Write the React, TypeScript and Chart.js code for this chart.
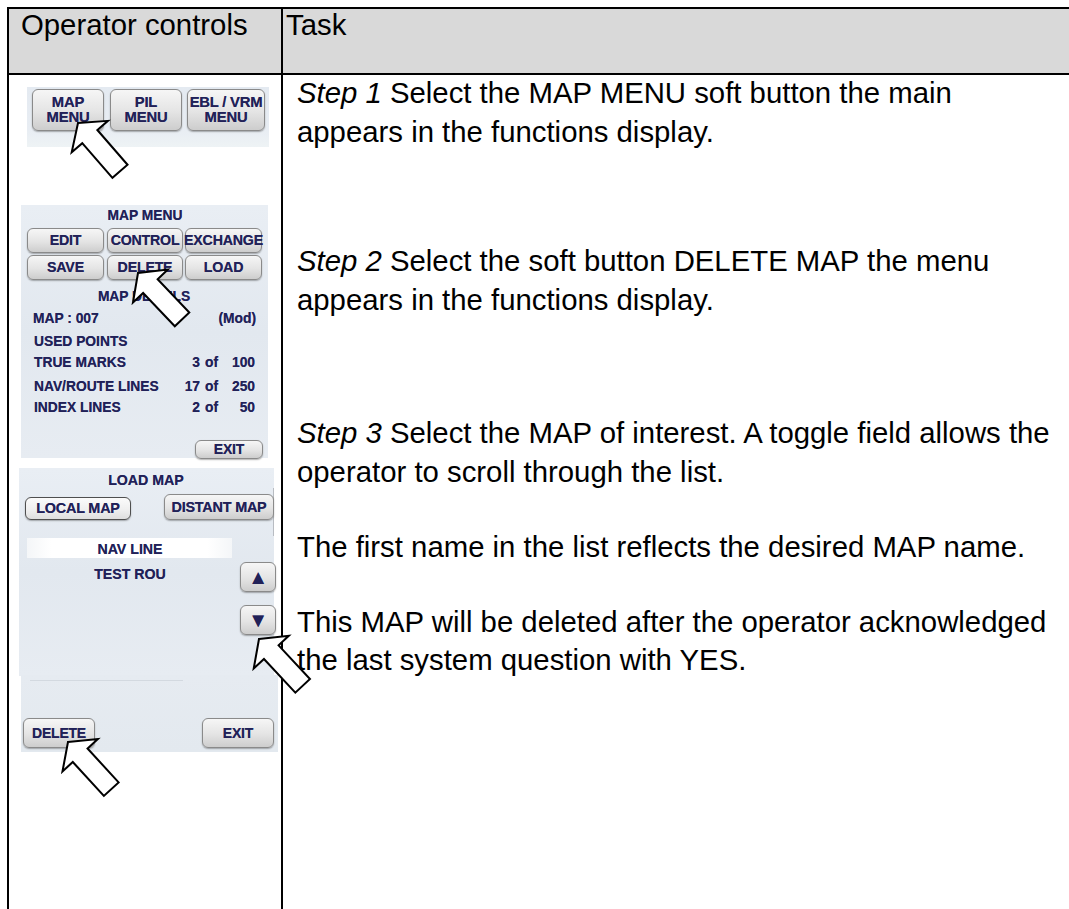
import React, { useEffect, useRef } from 'react';
import { Chart, registerables } from 'chart.js';

Chart.register(...registerables);

const PAGE_W = 1069;
const PAGE_H = 909;

// ---- content ----
const headerLabels = ['Operator controls', 'Task'];
const stepLabels = ['Step 1', 'Step 2', 'Step 3', '', ''];
const taskFirstLines = [
  ' Select the MAP MENU soft button the main',
  ' Select the soft button DELETE MAP the menu',
  ' Select the MAP of interest. A toggle field allows the',
  'The first name in the list reflects the desired MAP name.',
  'This MAP will be deleted after the operator acknowledged',
];
const taskSecondLines = [
  'appears in the functions display.',
  'appears in the functions display.',
  'operator to scroll through the list.',
  '',
  'the last system question with YES.',
];
const mainMenuButtons = [['MAP', 'MENU'], ['PIL', 'MENU'], ['EBL / VRM', 'MENU']];
const mapMenuButtons = ['EDIT', 'CONTROL', 'EXCHANGE', 'SAVE', 'DELETE', 'LOAD'];
const detailNames = ['TRUE MARKS', 'NAV/ROUTE LINES', 'INDEX LINES'];
const detailUsed = ['3', '17', '2'];
const detailMax = ['100', '250', '50'];
const mapList = ['NAV LINE', 'TEST ROU'];

// ---- pointer arrows (tip position and direction toward tail, degrees) ----
const arrowTipX = [78, 138, 259, 68];
const arrowTipY = [123, 273, 639, 742];
const arrowAngle = [49, 46.5, 47, 47.5];

// layout constants
const TASK_BASELINES = [[103, 142], [271, 310], [443, 482], [557], [632, 670]];
const NAVY = '#212158';
const PANEL_BG = 'linear-gradient(180deg, #e9eef4 0%, #e2e8ef 50%, #e7ecf2 100%)';

function arrowPolygon(tx: number, ty: number, ang: number) {
  const a = (ang * Math.PI) / 180;
  const dx = Math.cos(a), dy = Math.sin(a);
  const nx = dy, ny = -dx;
  const h = 18, w = 24, s = 10, L = 64;
  const P = (along: number, side: number) => ({ x: tx + along * dx + side * nx, y: ty + along * dy + side * ny });
  return [P(0, 0), P(h, w), P(h, s), P(L, s), P(L, -s), P(h, -s), P(h, -w)];
}

const arrowPlugin = {
  id: 'arrowPolys',
  afterDatasetsDraw(chart: any) {
    const ctx = chart.ctx;
    chart.data.datasets.forEach((_ds: any, i: number) => {
      const meta = chart.getDatasetMeta(i);
      const pts = meta.data;
      if (!pts.length) return;
      ctx.save();
      ctx.beginPath();
      pts.forEach((p: any, j: number) => (j ? ctx.lineTo(p.x, p.y) : ctx.moveTo(p.x, p.y)));
      ctx.closePath();
      ctx.fillStyle = '#ffffff';
      ctx.fill();
      ctx.lineWidth = 2;
      ctx.lineJoin = 'miter';
      ctx.strokeStyle = '#000000';
      ctx.stroke();
      ctx.restore();
    });
  },
};

function ArrowOverlay() {
  const ref = useRef<HTMLCanvasElement | null>(null);
  useEffect(() => {
    if (!ref.current) return;
    const datasets = arrowTipX.map((x, i) => ({
      data: arrowPolygon(x, arrowTipY[i], arrowAngle[i]),
      showLine: false,
      pointRadius: 0,
      pointHoverRadius: 0,
    }));
    const chart = new Chart(ref.current, {
      type: 'scatter',
      data: { datasets },
      options: {
        animation: false,
        responsive: false,
        events: [],
        layout: { padding: 0 },
        plugins: { legend: { display: false }, tooltip: { enabled: false }, title: { display: false } },
        scales: {
          x: { type: 'linear', min: 0, max: PAGE_W, display: false },
          y: { type: 'linear', min: 0, max: PAGE_H, reverse: true, display: false },
        },
      },
      plugins: [arrowPlugin],
    } as any);
    return () => chart.destroy();
  }, []);
  return (
    <canvas
      ref={ref}
      width={PAGE_W}
      height={PAGE_H}
      style={{ position: 'absolute', left: 0, top: 0, width: PAGE_W, height: PAGE_H, zIndex: 10, pointerEvents: 'none' }}
    />
  );
}

// panel text placed by baseline
function PT({ x, b, align = 'left', size = 13.8, children, color = NAVY }: any) {
  const lh = 16;
  const top = b - (lh - size * 1.117) / 2 - size * 0.905;
  const base: any = {
    position: 'absolute', top, lineHeight: lh + 'px', fontSize: size, fontWeight: 'bold',
    color, whiteSpace: 'nowrap', fontFamily: '"Liberation Sans", Arial, sans-serif',
    textShadow: '0 0 0.6px rgba(33,33,88,0.7)',
  };
  if (align === 'center') return <div style={{ ...base, left: x - 200, width: 400, textAlign: 'center' }}>{children}</div>;
  if (align === 'right') return <div style={{ ...base, left: x - 400, width: 400, textAlign: 'right' }}>{children}</div>;
  return <div style={{ ...base, left: x }}>{children}</div>;
}

function Btn({ x1, x2, y1, y2, children, size = 14, selected = false, lh = 15 }: any) {
  return (
    <div
      style={{
        position: 'absolute', left: x1, top: y1, width: x2 - x1, height: y2 - y1, boxSizing: 'border-box',
        border: selected ? '1.5px solid #4f4f4f' : '1px solid #8a8a8a', borderRadius: 6,
        background: selected ? 'linear-gradient(180deg,#fbfbfb 0%,#eeeeee 60%,#dedede 100%)' : 'linear-gradient(180deg,#f6f6f6 0%,#e4e4e4 55%,#cdcdcd 100%)',
        boxShadow: '0 1px 1.5px rgba(0,0,0,0.3)', display: 'flex', flexDirection: 'column', alignItems: 'center',
        justifyContent: 'center', color: NAVY, fontWeight: 'bold', fontSize: size, lineHeight: lh + 'px',
        fontFamily: '"Liberation Sans", Arial, sans-serif', whiteSpace: 'nowrap', letterSpacing: -0.2,
        textShadow: '0 0 0.6px rgba(33,33,88,0.7)',
      }}
    >
      {children}
    </div>
  );
}

function Panel1() {
  const cols = [[32, 104], [110, 182], [187, 265]];
  return (
    <>
      <div style={{ position: 'absolute', left: 27, top: 87, width: 242, height: 60, background: 'linear-gradient(180deg,#e4eaf1 0%,#e8edf3 70%,#eef3f5 100%)' }} />
      {mainMenuButtons.map((lines, i) => (
        <Btn key={i} x1={cols[i][0]} x2={cols[i][1]} y1={89} y2={131} size={14.8}>
          <div>{lines[0]}</div>
          <div>{lines[1]}</div>
        </Btn>
      ))}
    </>
  );
}

function Panel2() {
  const cols = [[27, 104], [107, 183], [185, 262]];
  const rows = [[228, 253], [255, 280]];
  const baselines = [368, 392, 413];
  return (
    <>
      <div style={{ position: 'absolute', left: 21, top: 205, width: 247, height: 253, background: PANEL_BG }} />
      <PT x={145} b={221} align="center">MAP MENU</PT>
      {mapMenuButtons.map((t, i) => (
        <Btn key={t} x1={cols[i % 3][0]} x2={cols[i % 3][1]} y1={rows[Math.floor(i / 3)][0]} y2={rows[Math.floor(i / 3)][1]} size={14.2}>
          {t}
        </Btn>
      ))}
      <PT x={144} b={302} align="center">MAP DETAILS</PT>
      <PT x={33} b={324}>MAP : 007</PT>
      <PT x={256} b={324} align="right">(Mod)</PT>
      <PT x={34} b={347}>USED POINTS</PT>
      {detailNames.map((n, i) => (
        <React.Fragment key={n}>
          <PT x={34} b={baselines[i]}>{n}</PT>
          <PT x={200} b={baselines[i]} align="right">{detailUsed[i]}</PT>
          <PT x={205} b={baselines[i]}>of</PT>
          <PT x={255} b={baselines[i]} align="right">{detailMax[i]}</PT>
        </React.Fragment>
      ))}
      <Btn x1={195} x2={263} y1={440} y2={459}>EXIT</Btn>
    </>
  );
}

function Panel3() {
  return (
    <>
      <div style={{ position: 'absolute', left: 19, top: 468, width: 255, height: 208, background: PANEL_BG }} />
      <div style={{ position: 'absolute', left: 21, top: 675, width: 257, height: 77, background: 'linear-gradient(180deg,#e6ebf1 0%,#e3e9ef 100%)' }} />
      <div style={{ position: 'absolute', left: 273, top: 488, width: 1, height: 48, background: '#b8bcc2' }} />
      <PT x={146} b={485} align="center" size={14.2}>LOAD MAP</PT>
      <Btn x1={25} x2={131} y1={497} y2={520} selected size={14.4}>LOCAL MAP</Btn>
      <Btn x1={164} x2={274} y1={494} y2={520} size={14.4}>DISTANT MAP</Btn>
      <div style={{ position: 'absolute', left: 27, top: 538, width: 205, height: 20, background: 'linear-gradient(90deg,#f4f6f8 0%,#ffffff 12%,#ffffff 88%,#f4f6f8 100%)' }} />
      <PT x={130} b={554} align="center" size={14.2}>{mapList[0]}</PT>
      <PT x={130} b={579} align="center" size={14.2}>{mapList[1]}</PT>
      <Btn x1={240} x2={276} y1={562} y2={592} size={20} lh={20}>▲</Btn>
      <Btn x1={240} x2={276} y1={605} y2={635} size={20} lh={20}>▼</Btn>
      <div style={{ position: 'absolute', left: 30, top: 680, width: 153, height: 1, background: '#d3d9e0' }} />
      <Btn x1={23} x2={95} y1={718} y2={748}>DELETE</Btn>
      <Btn x1={202} x2={274} y1={718} y2={748}>EXIT</Btn>
    </>
  );
}

const bigFont: any = {
  position: 'absolute', fontSize: 29.33, lineHeight: '39px', color: '#000', whiteSpace: 'nowrap',
  fontFamily: '"Liberation Sans", Arial, sans-serif',
};
const BASE_OFF = 29.6;

export default function App() {
  return (
    <div style={{ position: 'fixed', left: 0, top: 0, width: PAGE_W, height: PAGE_H, overflow: 'hidden', background: '#fff' }}>
      {/* header fill */}
      <div style={{ position: 'absolute', left: 9, top: 9, width: PAGE_W - 9, height: 64, background: '#d9d9d9' }} />
      {/* table rules */}
      <div style={{ position: 'absolute', left: 7, top: 7, width: PAGE_W - 7, height: 2, background: '#000' }} />
      <div style={{ position: 'absolute', left: 7, top: 73, width: PAGE_W - 7, height: 2, background: '#000' }} />
      <div style={{ position: 'absolute', left: 7, top: 7, width: 2, height: PAGE_H - 7, background: '#000' }} />
      <div style={{ position: 'absolute', left: 281, top: 7, width: 2, height: PAGE_H - 7, background: '#000' }} />

      {/* header text */}
      <div style={{ ...bigFont, left: 21, top: 35 - BASE_OFF }}>{headerLabels[0]}</div>
      <div style={{ ...bigFont, left: 286, top: 35 - BASE_OFF }}>{headerLabels[1]}</div>

      {/* task text */}
      {taskFirstLines.map((line, i) => (
        <React.Fragment key={i}>
          <div style={{ ...bigFont, left: 297, top: TASK_BASELINES[i][0] - BASE_OFF }}>
            {stepLabels[i] ? <i>{stepLabels[i]}</i> : null}
            {line}
          </div>
          {taskSecondLines[i] ? (
            <div style={{ ...bigFont, left: 297, top: TASK_BASELINES[i][1] - BASE_OFF }}>{taskSecondLines[i]}</div>
          ) : null}
        </React.Fragment>
      ))}

      <Panel1 />
      <Panel2 />
      <Panel3 />

      <ArrowOverlay />
    </div>
  );
}
